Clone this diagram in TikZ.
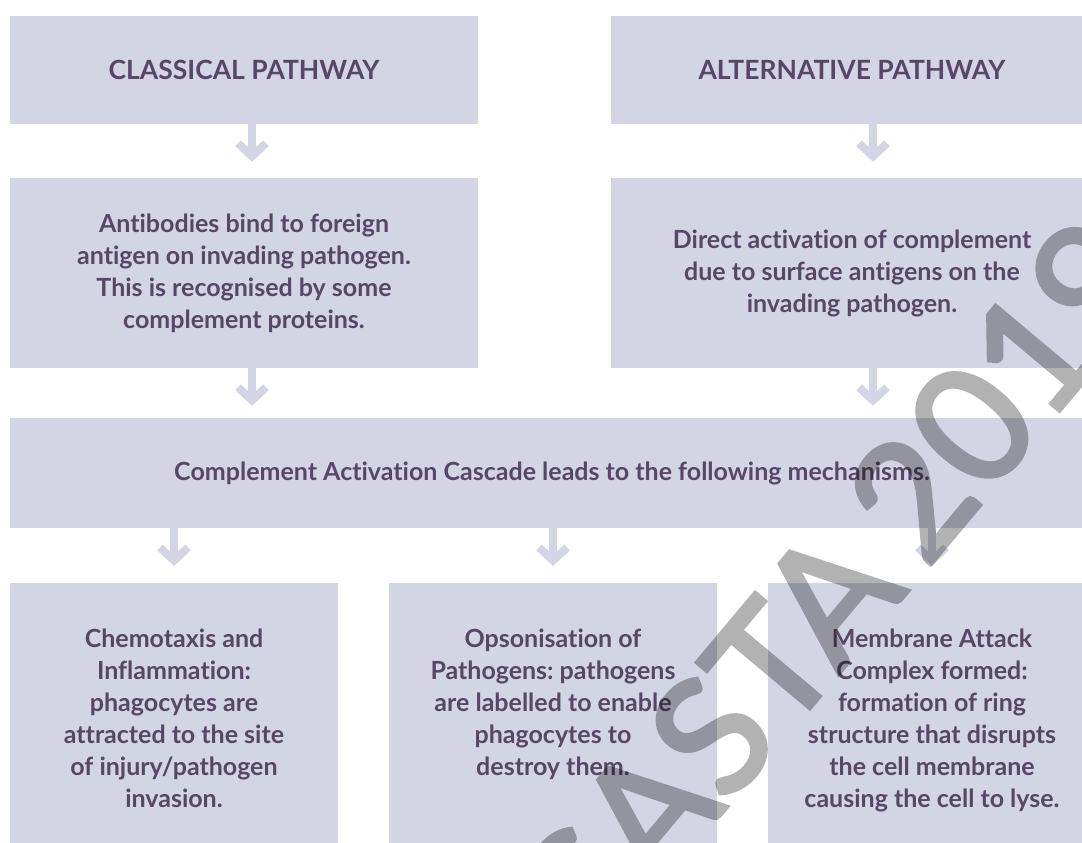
\documentclass[tikz,border=0pt]{standalone}
\usepackage{fontspec}
\setmainfont{Lato}[Ligatures=NoCommon]
\newfontfamily\stampfont{Lato}[FakeBold=2.5]
\usetikzlibrary{positioning,arrows.meta}

\definecolor{tilefill}{HTML}{D3D5E4}
\definecolor{tiletext}{HTML}{574767}

\tikzset{
  tile/.style={fill=tilefill, text=tiletext, inner sep=0pt, align=center,
    font=\frenchspacing\bfseries\fontsize{25}{32}\selectfont},
  head/.style={tile, font=\bfseries\fontsize{26.5}{30}\selectfont},
  note/.style={text=tiletext, inner sep=0pt, align=center,
    font=\frenchspacing\bfseries\fontsize{25}{32}\selectfont},
  flow/.style={draw=tilefill, line width=8pt, -{Straight Barb[length=13pt,width=28pt]}},
  stamp/.style={text=black, font=\stampfont\fontsize{162}{162}\selectfont}
}

\begin{document}
\begin{tikzpicture}[x=1pt, y=-1pt]
    \useasboundingbox (0,0) rectangle (1082,843);
    % the two pathways
    \node[head, minimum width=468pt, minimum height=108pt] (classic) at (244,70) {CLASSICAL PATHWAY};
    \node[head, minimum width=482pt, minimum height=108pt] (alt) at (852,70) {ALTERNATIVE PATHWAY};
    \node[tile, minimum width=468pt, minimum height=190pt] (antibody) at (244,273) {Antibodies bind to foreign\\antigen on invading pathogen.\\This is recognised by some\\complement proteins.};
    \node[tile, minimum width=482pt, minimum height=190pt] (direct) at (852,273) {Direct activation of complement\\due to surface antigens on the\\invading pathogen.};
    % cascade
    \node[tile, minimum width=1084pt, minimum height=110pt] (cascade) at (552,473) {Complement Activation Cascade leads to the following mechanisms.};
    % mechanisms
    \node[tile, minimum width=328pt, minimum height=300pt, anchor=north] (chemo) at (174,583) {};
    \node[tile, minimum width=328pt, minimum height=300pt, anchor=north] (opson) at (553,583) {};
    \node[tile, minimum width=328pt, minimum height=300pt, anchor=north] (mac) at (932,583) {};
    \node[note, below=46pt of chemo.north] (chemotext) {Chemotaxis and\\Inflammation:\\phagocytes are\\attracted to the site\\of injury/pathogen\\invasion.};
    \node[note, below=46pt of opson.north] (opsontext) {Opsonisation of\\Pathogens: pathogens\\are labelled to enable\\phagocytes to\\destroy them.};
    \node[note, below=46pt of mac.north] (mactext) {Membrane Attack\\Complex formed:\\formation of ring\\structure that disrupts\\the cell membrane\\causing the cell to lyse.};

    \draw[flow, shorten >=16pt] ([xshift=8pt]classic.south) -- ([xshift=8pt]antibody.north);
    \draw[flow, shorten >=16pt] ([xshift=21pt]alt.south) -- ([xshift=21pt]direct.north);
    \draw[flow, shorten >=12pt] ([xshift=8pt]antibody.south) -- ([xshift=8pt]antibody.south |- cascade.north);
    \draw[flow, shorten >=12pt] ([xshift=21pt]direct.south) -- ([xshift=21pt]direct.south |- cascade.north);
    \foreach \m in {chemo,opson,mac}
    \draw[flow, shorten >=17pt] (cascade.south -| \m.north) -- (\m.north);

    \begin{scope}[transparency group, opacity=0.3]
    \node[stamp, rotate=50] (wmark) at (840,582) {SASTA\kern-15pt\ 2019};
    \end{scope}
\end{tikzpicture}
\end{document}
